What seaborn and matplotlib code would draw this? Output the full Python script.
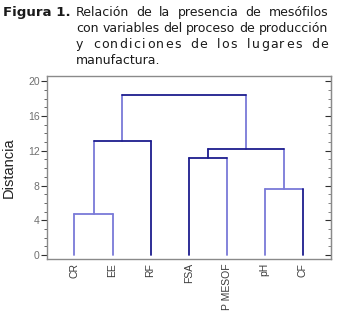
import matplotlib
matplotlib.use("Agg")
import matplotlib.pyplot as plt
from matplotlib.ticker import MultipleLocator
import pandas as pd
import seaborn as sns

# dendrogram data (leaf order as drawn)
leaves = ["CR", "EE", "RF", "FSA", "P MESOF", "pH", "CF"]
# merges: node ids 0-6 are leaves, each merge creates node 7, 8, ...
merge_left = [0, 5, 3, 7, 9, 10]
merge_right = [1, 6, 4, 2, 8, 11]
merge_height = [4.7, 7.6, 11.15, 13.1, 12.2, 18.4]
y_ticks = [0, 4, 8, 12, 16, 20]

# tone of (left leg, bar, right leg) for each merge
tones = [("l", "l", "l"), ("l", "l", "d"), ("d", "d", "l"),
         ("l", "d", "d"), ("d", "d", "l"), ("l", "d", "l")]
palette = {"d": "#1c1c8e", "l": "#7a7ad8"}

# build segment table from the linkage
xpos = {i: float(i) for i in range(len(leaves))}
ypos = {i: 0.0 for i in range(len(leaves))}
rows = []
seg = 0
for k, (a, b, h) in enumerate(zip(merge_left, merge_right, merge_height)):
    node = len(leaves) + k
    pts = [((xpos[a], ypos[a]), (xpos[a], h)),
           ((xpos[a], h), (xpos[b], h)),
           ((xpos[b], h), (xpos[b], ypos[b]))]
    for (p0, p1), t in zip(pts, tones[k]):
        rows.append({"x": p0[0], "y": p0[1], "seg": seg, "tone": t})
        rows.append({"x": p1[0], "y": p1[1], "seg": seg, "tone": t})
        seg += 1
    xpos[node] = (xpos[a] + xpos[b]) / 2
    ypos[node] = h
segs = pd.DataFrame(rows)

sns.set_style("white")
plt.rcParams["font.family"] = ["Liberation Sans", "DejaVu Sans"]

W, H = 337, 318
fig = plt.figure(figsize=(W / 100, H / 100), dpi=100)
ax = fig.add_axes([46.7 / W, 1 - 259 / H, (331 - 46.7) / W, (259 - 75.7) / H])

sns.lineplot(data=segs, x="x", y="y", units="seg", estimator=None, hue="tone",
             palette=palette, sort=False, legend=False, linewidth=1.3, ax=ax)

ax.set_xlim(-0.73, 6.74)
ax.set_ylim(-0.46, 20.65)
ax.set_xticks(range(len(leaves)))
ax.set_xticklabels(leaves, rotation=90, va="top", fontsize=7.5, color="#3a3a3a")
ax.set_yticks(y_ticks)
ax.set_yticklabels([str(v) for v in y_ticks], fontsize=7.5, color="#707070")
ax.yaxis.set_minor_locator(MultipleLocator(1))
ax.tick_params(axis="x", length=0, pad=3)
ax.tick_params(axis="y", which="major", direction="out", length=4.5, width=0.8,
               color="#303030", pad=0.5, left=True)
ax.tick_params(axis="y", which="minor", direction="out", length=2.5, width=0.6,
               color="#505050", left=True)
ax.set_xlabel("")
ax.set_ylabel("Distancia", fontsize=10.5, color="#202020", labelpad=9)
for s in ax.spines.values():
    s.set_color("#8a8a8a")
    s.set_linewidth(1.0)

sec = ax.secondary_yaxis("right")
sec.set_yticks(y_ticks)
sec.yaxis.set_minor_locator(MultipleLocator(1))
sec.tick_params(which="major", direction="in", length=4.5, width=0.8, color="#303030",
                labelright=False)
sec.tick_params(which="minor", direction="in", length=2.5, width=0.6, color="#707070")
sec.spines["right"].set_color("#8a8a8a")

# caption, justified like the original
renderer = fig.canvas.get_renderer()
CAP = 9.0


def put_line(text, x0, x1, ybase, mode="words"):
    # mode: "words" spreads word gaps, "chars" letter-spaces, "left" no justify
    pieces = text.split() if mode != "chars" else list(text)
    objs = [fig.text(x0 / W, 1 - ybase / H, p, fontsize=CAP, family="DejaVu Sans",
                     color="#1a1a1a", va="baseline") for p in pieces]
    probe = fig.text(0, 0, "a a", fontsize=CAP, family="DejaVu Sans")
    probe2 = fig.text(0, 0, "aa", fontsize=CAP, family="DejaVu Sans")
    space = (probe.get_window_extent(renderer).width
             - probe2.get_window_extent(renderer).width)
    probe.remove()
    probe2.remove()
    widths = [o.get_window_extent(renderer).width if p.strip() else space
              for o, p in zip(objs, pieces)]
    if mode == "left":
        gap = space
        weights = [1] * len(pieces)
    else:
        # spaces take a bigger share of the spread than letters
        weights = [3 if not p.strip() else 1 for p in pieces]
        gap = (x1 - x0 - sum(widths)) / (sum(weights[:-1]) + 0.0)
    x = x0
    for o, w, wt in zip(objs, widths, weights):
        o.set_x(x / W)
        x += w + gap * wt


fig.text(3 / W, 1 - 16 / H, "Figura 1.", fontsize=9.6, family="DejaVu Sans",
         weight="bold", color="#1a1a1a", va="baseline")
put_line("Relación de la presencia de mesófilos", 76, 328, 16)
put_line("con variables del proceso de producción", 76, 328, 32)
put_line("y condiciones de los lugares de", 76, 328, 48, mode="chars")
put_line("manufactura.", 76, 328, 64, mode="left")

fig.savefig("out.png", dpi=100)
